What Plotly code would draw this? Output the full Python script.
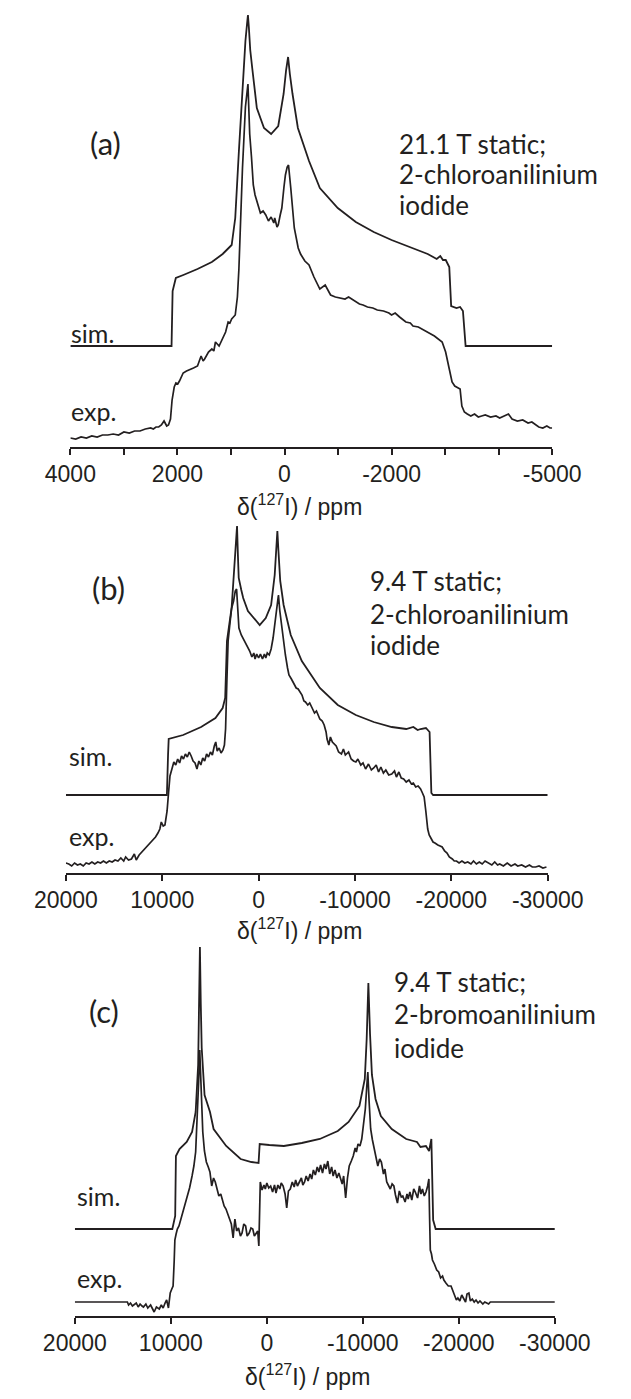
import plotly.graph_objects as go

# ---------------- data (ppm, intensity) ----------------
# Panel (a): 21.1 T, 2-chloroanilinium iodide
A_SIM_PPM = [4000, 2110, 2090, 2030, 1890, 1625, 1357, 1155, 987, 920, 852, 785, 730, 700, 683, 665, 640, 603, 517, 383,
             250, 117, 17, -30, -67, -100, -150, -250, -458, -660, -995, -1332, -1667, -2000, -2333, -2675, -2843,
             -2910, -2960, -3012, -3078, -3113, -3213, -3280, -3333, -3383, -5000]
A_SIM_INT = [0, 0, 55, 68, 71, 77, 84, 92, 101, 128, 195, 262, 305, 322, 331, 318, 296, 278, 238, 218,
             212, 220, 252, 276, 289, 272, 252, 218, 185, 158, 138, 124, 114, 106, 99, 92, 87,
             90, 86, 86, 79, 40, 38, 39, 35, 0, 0]

A_EXP_PPM = [4000, 3900, 3800, 3700, 3600, 3500, 3400, 3300, 3200, 3100, 3000, 2900, 2800, 2700, 2600, 2500, 2450,
             2400, 2350, 2300, 2250, 2200, 2167, 2130, 2100, 2060, 2028, 1995, 1962, 1893, 1830, 1760, 1700, 1625,
             1558, 1520, 1492, 1420, 1357, 1320, 1290, 1222, 1155, 1100, 1053, 1020, 987, 920, 880, 852, 785, 730,
             683, 650, 617, 583, 550, 517, 480, 450, 400, 350, 300, 250, 200, 183, 140, 117, 80, 50, 10, -17, -50,
             -75, -117, -183, -256, -300, -380, -458, -550, -660, -760, -861, -950, -1050, -1130, -1197, -1300,
             -1400, -1467, -1550, -1650, -1733, -1850, -1950, -2000, -2067, -2150, -2267, -2350, -2400, -2500,
             -2600, -2675, -2800, -2945, -3010, -3078, -3130, -3180, -3280, -3313, -3360, -3415, -3480, -3550,
             -3620, -3683, -3750, -3850, -3950, -4020, -4100, -4183, -4250, -4350, -4450, -4550, -4620, -4692,
             -4750, -4825, -4900, -4960, -5000]
A_EXP_INT = [9, 8, 10, 9, 11, 10, 12, 12, 13, 12, 15, 14, 16, 16, 18, 19, 18,
             20, 20, 22, 26, 21, 22, 28, 47, 60, 64, 63, 66, 74, 76, 78, 79, 81,
             91, 86, 88, 95, 98, 96, 105, 101, 108, 115, 125, 124, 128, 132, 150, 178, 279, 340,
             363, 313, 290, 262, 252, 246, 240, 234, 236, 232, 226, 230, 224, 229, 220, 222, 232, 239, 260, 272, 280,
             282, 259, 219, 199, 193, 186, 182, 170, 158, 162, 152, 150, 149, 148, 150, 146,
             143, 142, 140, 139, 137, 136, 134, 132, 134, 130, 125, 124, 121, 120,
             117, 115, 111, 105, 95, 78, 65, 61, 58, 41, 35, 33, 31, 33,
             30, 31, 32, 30, 31, 29, 31, 33, 28, 26, 27, 24, 25, 22,
             20, 19, 21, 19, 19]

# Panel (b): 9.4 T, 2-chloroanilinium iodide
B_SIM_PPM = [20000, 9520, 9400, 9333, 7833, 5972, 4481, 3731, 3472, 3287, 2796, 2426, 2300, 2241, 2150, 2065, 1800,
             1602, 1111, 370, -111, -741, -1296, -1667, -1850, -1944, -2050, -2241, -2593, -3333, -4481, -6352,
             -8213, -10083, -11944, -13815, -15315, -16056, -16500, -16806, -17361, -17741, -17926, -18111, -30000]
B_SIM_INT = [0, 0, 40, 56, 60, 68, 77, 87, 97, 154, 188, 238, 262, 269, 240, 217, 205,
             197, 184, 175, 170, 177, 190, 220, 250, 264, 245, 214, 190, 160, 134, 107,
             90, 80, 73, 68, 66, 68, 65, 66, 67, 63, 2, 0, 0]

B_EXP_PPM = [20000, 19700, 19400, 19100, 18800, 18500, 18200, 17900, 17600, 17300, 17000, 16700, 16400, 16100,
             15800, 15500, 15200, 14900, 14600, 14300, 14000, 13800, 13500, 13200, 12900, 12700, 12400, 12100,
             11900, 11600, 11300, 11000, 10700, 10450, 10250, 10100, 9900, 9720, 9500, 9350, 9200, 9000, 8800,
             8600, 8400, 8200, 8000, 7800, 7600, 7400, 7200, 7000, 6800, 6600, 6400, 6200, 6000, 5800, 5600, 5400,
             5200, 5000, 4800, 4600, 4450, 4300, 4100, 3900, 3700, 3550, 3430, 3300, 3167, 2950, 2796, 2600, 2426,
             2287, 2150, 2046, 1800, 1481, 1200, 926, 700, 500, 370, 200, 0, -185, -400, -600, -741, -900, -1100,
             -1296, -1500, -1667, -1850, -2056, -2200, -2407, -2600, -2778, -3000, -3148, -3400, -3704, -3900,
             -4100, -4259, -4500, -4700, -4861, -5100, -5300, -5602, -5800, -6000, -6352, -6600, -6800, -7000,
             -7100, -7287, -7450, -7650, -7843, -8050, -8300, -8593, -8800, -9000, -9333, -9600, -9850, -10093,
             -10300, -10600, -10833, -11100, -11400, -11700, -11944, -12200, -12450, -12685, -12950, -13200,
             -13500, -13815, -14100, -14300, -14556, -14800, -15050, -15315, -15600, -15850, -16056, -16300,
             -16550, -16806, -17000, -17176, -17350, -17546, -17700, -17926, -18100, -18296, -18600, -19046,
             -19300, -19550, -19787, -20100, -20300, -20537, -20800, -21100, -21400, -21700, -22037, -22300,
             -22600, -22900, -23200, -23500, -23889, -24200, -24500, -24800, -25018, -25400, -25800, -26200,
             -26600, -26889, -27300, -27700, -28100, -28400, -28750, -29100, -29500, -29870]
B_EXP_INT = [10, 9, 7, 10, 8, 9, 7, 10, 9, 11, 9, 11, 10, 12,
             10, 12, 11, 13, 12, 15, 12, 16, 13, 14, 19, 13, 18, 21,
             23, 27, 30, 33, 36, 40, 44, 51, 47, 48, 62, 80, 97, 104, 111,
             108, 114, 110, 117, 114, 119, 116, 121, 117, 112, 110, 104, 112, 108, 115, 112, 119,
             116, 121, 118, 127, 131, 122, 125, 120, 123, 128, 144, 190, 232, 252, 265, 272, 282,
             284, 262, 245, 238, 232, 226, 222, 216, 220, 214, 219, 215, 219, 214, 219, 215, 220, 218,
             224, 235, 248, 265, 278, 262, 245, 228, 218, 205, 198, 194, 188, 185,
             184, 181, 178, 172, 171, 168, 170, 164, 160, 162, 154, 152, 148, 141,
             134, 128, 136, 131, 129, 127, 121, 119, 124, 118, 121, 114, 112, 111,
             114, 108, 110, 104, 109, 103, 105, 108, 101, 106, 100, 103,
             98, 99, 102, 96, 101, 95, 94, 91, 93, 89, 90, 86,
             87, 84, 80, 76, 62, 44, 38, 34, 31, 30, 28, 26,
             22, 20, 16, 14, 12, 12, 10, 12, 10, 11, 9, 12,
             9, 11, 9, 12, 10, 8, 11, 8, 9, 7, 10, 7,
             9, 7, 8, 6, 8, 6, 6, 7, 5, 6]

# Panel (c): 9.4 T, 2-bromoanilinium iodide
C_SIM_PPM = [20000, 9844, 9545, 9470, 9098, 8346, 7788, 7415, 7155, 7060, 6970, 6880, 6784, 6487, 5920, 5545, 4234,
             2730, 1608, 862, 800, 745, -257, -1775, -3643, -5520, -7390, -8516, -9645, -10204, -10400, -10576,
             -10750, -10948, -11320, -11876, -13011, -14516, -15640, -16000, -16575, -16900, -17138, -17324,
             -17585, -30000]
C_SIM_INT = [0, 0, 13, 73, 80, 87, 97, 117, 164, 220, 282, 225, 181, 134, 117, 100, 83,
             70, 67, 66, 75, 85, 84, 83, 86, 90, 98, 107, 123, 150, 190, 246,
             195, 154, 130, 113, 100, 90, 87, 82, 83, 78, 90, 9,
             0, 0]

C_EXP_PPM = [20000, 14526, 14400, 14200, 14000, 13800, 13600, 13400, 13200, 13000, 12853, 12600, 12400, 12109,
             11900, 11737, 11500, 11200, 10993, 10800, 10600, 10435, 10249, 10063, 9900, 9765, 9650, 9580, 9450,
             9321, 9150, 8949, 8650, 8346, 8050, 7788, 7600, 7415, 7229, 7100, 6990, 6900, 6800, 6673, 6500, 6300,
             6100, 5928, 5743, 5550, 5370, 5200, 4998, 4800, 4626, 4450, 4254, 4100, 3882, 3700, 3510, 3400, 3324,
             3150, 2952, 2750, 2580, 2400, 2208, 2050, 1836, 1650, 1464, 1300, 1092, 950, 832, 760, 683, 500, 300,
             162, 0, -200, -397, -600, -800, -955, -1150, -1350, -1500, -1699, -1900, -2071, -2250, -2443, -2650,
             -2850, -3000, -3187, -3400, -3600, -3750, -3931, -4100, -4300, -4500, -4675, -4850, -5050, -5250,
             -5420, -5600, -5800, -6000, -6163, -6350, -6550, -6750, -6908, -7100, -7300, -7500, -7652, -7850,
             -8000, -8210, -8400, -8583, -8800, -9000, -9200, -9327, -9500, -9700, -9885, -10050, -10257, -10400,
             -10517, -10650, -10815, -11000, -11187, -11400, -11559, -11750, -11931, -12150, -12300, -12489,
             -12700, -12861, -13050, -13233, -13400, -13605, -13800, -14000, -14163, -14400, -14600, -14721,
             -14900, -15100, -15300, -15465, -15700, -15900, -16050, -16209, -16400, -16581, -16750, -16879,
             -16950, -17027, -17150, -17250, -17450, -17697, -17900, -18100, -18300, -18441, -18650, -18900,
             -19185, -19400, -19550, -19743, -19900, -20100, -20301, -20500, -20700, -20850, -21045, -21200,
             -21400, -21600, -21789, -22000, -22200, -22500, -22700, -22905, -23100, -23277, -30000]
C_EXP_INT = [14, 14, 11, 13, 10, 12, 13, 9, 12, 10, 9, 12, 8, 11,
             6, 4, 9, 7, 11, 8, 13, 16, 8, 23, 27, 30, 55, 76, 82,
             87, 90, 97, 106, 117, 128, 140, 150, 164, 201, 235, 266, 240, 200, 184, 165, 154,
             149, 144, 130, 138, 134, 126, 120, 122, 117, 110, 107, 102, 97, 92, 78, 90, 97,
             85, 88, 80, 83, 92, 90, 80, 83, 88, 87, 80, 83, 85, 70, 110, 134, 126, 131,
             127, 133, 128, 130, 124, 131, 123, 131, 127, 133, 130, 122, 108, 125, 127, 134,
             129, 136, 130, 134, 138, 131, 134, 140, 135, 142, 137, 146, 141, 149,
             144, 151, 143, 152, 147, 155, 142, 149, 140, 146, 138, 143, 137, 132,
             140, 118, 138, 150, 155, 160, 168, 164, 172, 170, 177, 190, 207, 228,
             244, 215, 187, 176, 167, 158, 150, 157, 154, 142, 147, 134,
             130, 127, 132, 130, 121, 113, 125, 119, 120, 114, 122, 117,
             124, 116, 127, 124, 118, 130, 122, 127, 120, 124, 130, 137,
             100, 66, 62, 56, 52, 46, 44, 38, 40, 36, 33, 30,
             30, 24, 20, 16, 18, 15, 21, 17, 14, 22, 23, 15,
             17, 14, 16, 13, 15, 12, 14, 13, 12, 14, 14]

# tick values / labels
A_TICKS = [4000, 2000, 0, -2000, -5000]
A_MINOR = [3000, 1000, -1000, -3000, -4000]
BC_TICKS = [20000, 10000, 0, -10000, -20000, -30000]

# ---------------- layout constants ----------------
W, H = 631, 1399
INK = "#231f20"
SIM_OFFSET = {"a": 101, "b": 78, "c": 87}
PANELS = {
    # name: (x range, x pixel left/right, axis y px, top y px)
    "a": ([4000, -5000], 43, 583, 447, 0),
    "b": ([20000, -30000], 38, 578, 873, 500),
    "c": ([20000, -30000], 48, 586, 1316, 940),
}


def py(px):
    return 1 - px / H


def pxx(px):
    return px / W


fig = go.Figure()
series = {
    "a": (A_SIM_PPM, A_SIM_INT, A_EXP_PPM, A_EXP_INT),
    "b": (B_SIM_PPM, B_SIM_INT, B_EXP_PPM, B_EXP_INT),
    "c": (C_SIM_PPM, C_SIM_INT, C_EXP_PPM, C_EXP_INT),
}
for i, key in enumerate(["a", "b", "c"]):
    sx, sy, ex, ey = series[key]
    suf = "" if i == 0 else str(i + 1)
    off = SIM_OFFSET[key]
    fig.add_trace(go.Scatter(x=sx, y=[v + off for v in sy], mode="lines",
                             line=dict(color=INK, width=1.8), xaxis="x" + suf, yaxis="y" + suf,
                             showlegend=False, hoverinfo="skip"))
    fig.add_trace(go.Scatter(x=ex, y=ey, mode="lines",
                             line=dict(color=INK, width=1.7), xaxis="x" + suf, yaxis="y" + suf,
                             showlegend=False, hoverinfo="skip"))

TICK_FONT = dict(family="Liberation Sans, Arial, sans-serif", size=23, color=INK)
layout = dict(width=W, height=H, margin=dict(l=0, r=0, t=0, b=0),
              paper_bgcolor="white", plot_bgcolor="white", showlegend=False)

for i, key in enumerate(["a", "b", "c"]):
    xr, xl, xrgt, yax, ytop = PANELS[key]
    suf = "" if i == 0 else str(i + 1)
    tv = A_TICKS if key == "a" else BC_TICKS
    xa = dict(range=xr, domain=[pxx(xl), pxx(xrgt)], anchor="y" + suf,
              showline=True, linecolor=INK, linewidth=1.5, ticks="outside",
              ticklen=6, tickwidth=1.5, tickcolor=INK, tickmode="array", tickvals=tv,
              ticktext=[str(v) for v in tv],
              tickfont=TICK_FONT, showgrid=False, zeroline=False, fixedrange=True,
              ticklabelstandoff=0)
    if key == "a":
        xa["minor"] = dict(tickmode="array", tickvals=A_MINOR, ticks="outside", ticklen=6,
                           tickwidth=1.5, tickcolor=INK, showgrid=False)
    layout["xaxis" + suf] = xa
    layout["yaxis" + suf] = dict(range=[0, yax - ytop], domain=[py(yax), py(ytop)], anchor="x" + suf,
                                 visible=False, fixedrange=True)

fig.update_layout(**layout)

LBL_FONT = dict(family="Lato, Noto Sans, sans-serif", size=26, color=INK)
SMALL_FONT = dict(family="Lato, Noto Sans, sans-serif", size=25, color=INK)
PAN_FONT = dict(family="Lato, Noto Sans, sans-serif", size=31, color=INK)
AX_FONT = dict(family="Liberation Sans, Arial, sans-serif", size=23, color=INK)


def ann(text, x, y, font, xanchor="left"):
    fig.add_annotation(text=text, x=pxx(x), y=py(y), xref="paper", yref="paper",
                       xanchor=xanchor, yanchor="middle", showarrow=False, font=font)


# panel letters
ann("(a)", 82, 143, PAN_FONT, "center")
ann("(b)", 86, 588, PAN_FONT, "center")
ann("(c)", 81, 1011, PAN_FONT, "center")

# descriptions
for (x0, ys, lines) in [(409, [144, 174, 205], ["21.1 T static;", "2-chloroanilinium", "iodide"]),
                        (377, [581, 614, 645], ["9.4 T static;", "2-chloroanilinium", "iodide"]),
                        (403, [982, 1014, 1048], ["9.4 T static;", "2-bromoanilinium", "iodide"])]:
    for yy, t in zip(ys, lines):
        ann(t, x0, yy, LBL_FONT)

# sim./exp. labels
for (x0, ysim, yexp) in [(42, 333, 411), (39, 756, 836), (48, 1196, 1278)]:
    ann("sim.", x0, ysim, SMALL_FONT)
    ann("exp.", x0, yexp, SMALL_FONT)

# axis titles
for (xc, yc) in [(300, 505), (300, 929), (309, 1375)]:
    ann("δ(<sup>127</sup>I) / ppm", xc, yc, AX_FONT, "center")

fig.write_html("out.html")
